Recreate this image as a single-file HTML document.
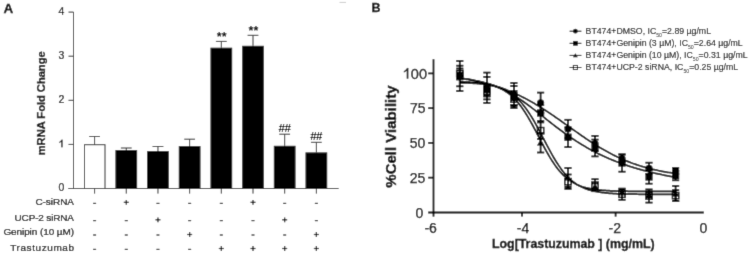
<!DOCTYPE html><html><head><meta charset="utf-8"><style>html,body{margin:0;padding:0;background:#fff;}svg{display:block;}#w{will-change:transform;width:749px;height:254px;}text{font-family:"Liberation Sans",sans-serif;}</style></head><body>
<div id="w"><svg width="749" height="254" viewBox="0 0 749 254">
<defs><filter id="bl" x="0" y="0" width="749" height="254" filterUnits="userSpaceOnUse"><feConvolveMatrix order="3" kernelMatrix="0.01134 0.08382 0.01134 0.08382 0.61935 0.08382 0.01134 0.08382 0.01134" edgeMode="duplicate"/></filter></defs>
<rect width="749" height="254" fill="#fff"/>
<g filter="url(#bl)">
<rect width="749" height="254" fill="#fff"/>
<text transform="translate(3.60,13.00)" font-size="13.5" font-weight="bold" fill="#000" stroke="#000" stroke-width="0.3">A</text>
<g stroke="#2a2a2a" stroke-width="1" fill="none">
<line x1="73.5" y1="12" x2="73.5" y2="189"/>
<line x1="68.5" y1="188.50" x2="73.5" y2="188.50"/>
<line x1="68.5" y1="144.40" x2="73.5" y2="144.40"/>
<line x1="68.5" y1="100.30" x2="73.5" y2="100.30"/>
<line x1="68.5" y1="56.20" x2="73.5" y2="56.20"/>
<line x1="68.5" y1="12.10" x2="73.5" y2="12.10"/>
<line x1="68.5" y1="188.5" x2="338.6" y2="188.5"/>
</g>
<text transform="translate(64.30,191.30)" font-size="10.5" text-anchor="end" fill="#000" stroke="#000" stroke-width="0.2">0</text>
<g stroke="#000" stroke-width="0.2"><path d="M62.43,147.20 L61.45,147.20 L61.45,141.47 C60.93,141.99 59.98,142.41 59.35,142.78 L59.35,141.89 C60.56,141.36 61.24,140.42 61.66,139.68 L62.43,139.68 Z" fill="#000"/></g>
<text transform="translate(64.30,103.10)" font-size="10.5" text-anchor="end" fill="#000" stroke="#000" stroke-width="0.2">2</text>
<text transform="translate(64.30,59.00)" font-size="10.5" text-anchor="end" fill="#000" stroke="#000" stroke-width="0.2">3</text>
<text transform="translate(64.30,14.90)" font-size="10.5" text-anchor="end" fill="#000" stroke="#000" stroke-width="0.2">4</text>
<text transform="translate(45.0,155.3) rotate(-90)" font-size="11.2" font-weight="bold" fill="#000" stroke="#000" stroke-width="0.25" textLength="104" lengthAdjust="spacing">mRNA Fold Change</text>
<rect x="84.5" y="144.70" width="20.5" height="43.80" fill="#fff" stroke="#2a2a2a" stroke-width="1"/>
<g stroke="#2a2a2a" stroke-width="1"><line x1="94.60" y1="136.50" x2="94.60" y2="144.70"/><line x1="89.20" y1="136.50" x2="100.00" y2="136.50"/><line x1="94.60" y1="188.5" x2="94.60" y2="193.6"/></g>
<rect x="115.43" y="150.10" width="21.70" height="38.40" fill="#000"/>
<g stroke="#2a2a2a" stroke-width="1"><line x1="126.28" y1="148.00" x2="126.28" y2="150.10"/><line x1="120.88" y1="148.00" x2="131.68" y2="148.00"/><line x1="126.28" y1="188.5" x2="126.28" y2="193.6"/></g>
<rect x="147.11" y="151.10" width="21.70" height="37.40" fill="#000"/>
<g stroke="#2a2a2a" stroke-width="1"><line x1="157.96" y1="146.50" x2="157.96" y2="151.10"/><line x1="152.56" y1="146.50" x2="163.36" y2="146.50"/><line x1="157.96" y1="188.5" x2="157.96" y2="193.6"/></g>
<rect x="178.79" y="146.10" width="21.70" height="42.40" fill="#000"/>
<g stroke="#2a2a2a" stroke-width="1"><line x1="189.64" y1="139.20" x2="189.64" y2="146.10"/><line x1="184.24" y1="139.20" x2="195.04" y2="139.20"/><line x1="189.64" y1="188.5" x2="189.64" y2="193.6"/></g>
<rect x="210.47" y="47.70" width="21.70" height="140.80" fill="#000"/>
<g stroke="#2a2a2a" stroke-width="1"><line x1="221.32" y1="41.40" x2="221.32" y2="47.70"/><line x1="215.92" y1="41.40" x2="226.72" y2="41.40"/><line x1="221.32" y1="188.5" x2="221.32" y2="193.6"/></g>
<rect x="242.15" y="45.80" width="21.70" height="142.70" fill="#000"/>
<g stroke="#2a2a2a" stroke-width="1"><line x1="253.00" y1="35.30" x2="253.00" y2="45.80"/><line x1="247.60" y1="35.30" x2="258.40" y2="35.30"/><line x1="253.00" y1="188.5" x2="253.00" y2="193.6"/></g>
<rect x="273.83" y="145.80" width="21.70" height="42.70" fill="#000"/>
<g stroke="#2a2a2a" stroke-width="1"><line x1="284.68" y1="134.20" x2="284.68" y2="145.80"/><line x1="279.28" y1="134.20" x2="290.08" y2="134.20"/><line x1="284.68" y1="188.5" x2="284.68" y2="193.6"/></g>
<rect x="305.51" y="152.40" width="21.70" height="36.10" fill="#000"/>
<g stroke="#2a2a2a" stroke-width="1"><line x1="316.36" y1="142.30" x2="316.36" y2="152.40"/><line x1="310.96" y1="142.30" x2="321.76" y2="142.30"/><line x1="316.36" y1="188.5" x2="316.36" y2="193.6"/></g>
<text transform="translate(221.72,40.80)" font-size="12.5" font-weight="bold" text-anchor="middle" fill="#000">**</text>
<text transform="translate(253.40,34.80)" font-size="12.5" font-weight="bold" text-anchor="middle" fill="#000">**</text>
<text transform="translate(284.38,132.20)" font-size="11.6" font-weight="bold" text-anchor="middle" fill="#000" letter-spacing="-0.6">##</text>
<text transform="translate(316.06,139.90)" font-size="11.6" font-weight="bold" text-anchor="middle" fill="#000" letter-spacing="-0.6">##</text>
<text transform="translate(74.00,205.20) scale(1.030,1)" font-size="9.7" text-anchor="end" fill="#000" textLength="37.48" lengthAdjust="spacing" stroke="#000" stroke-width="0.22">C-siRNA</text>
<line x1="93.10" y1="203.40" x2="96.10" y2="203.40" stroke="#1a1a1a" stroke-width="1.2"/>
<g stroke="#1a1a1a" stroke-width="1.2"><line x1="123.78" y1="202.30" x2="128.78" y2="202.30"/><line x1="126.28" y1="199.90" x2="126.28" y2="204.70"/></g>
<line x1="156.46" y1="203.40" x2="159.46" y2="203.40" stroke="#1a1a1a" stroke-width="1.2"/>
<line x1="188.14" y1="203.40" x2="191.14" y2="203.40" stroke="#1a1a1a" stroke-width="1.2"/>
<line x1="219.82" y1="203.40" x2="222.82" y2="203.40" stroke="#1a1a1a" stroke-width="1.2"/>
<g stroke="#1a1a1a" stroke-width="1.2"><line x1="250.50" y1="202.30" x2="255.50" y2="202.30"/><line x1="253.00" y1="199.90" x2="253.00" y2="204.70"/></g>
<line x1="283.18" y1="203.40" x2="286.18" y2="203.40" stroke="#1a1a1a" stroke-width="1.2"/>
<line x1="314.86" y1="203.40" x2="317.86" y2="203.40" stroke="#1a1a1a" stroke-width="1.2"/>
<text transform="translate(74.00,221.30) scale(1.030,1)" font-size="9.7" text-anchor="end" fill="#000" textLength="57.77" lengthAdjust="spacing" stroke="#000" stroke-width="0.22">UCP-2 siRNA</text>
<line x1="93.10" y1="220.60" x2="96.10" y2="220.60" stroke="#1a1a1a" stroke-width="1.2"/>
<line x1="124.78" y1="220.60" x2="127.78" y2="220.60" stroke="#1a1a1a" stroke-width="1.2"/>
<g stroke="#1a1a1a" stroke-width="1.2"><line x1="155.46" y1="219.80" x2="160.46" y2="219.80"/><line x1="157.96" y1="217.40" x2="157.96" y2="222.20"/></g>
<line x1="188.14" y1="220.60" x2="191.14" y2="220.60" stroke="#1a1a1a" stroke-width="1.2"/>
<line x1="219.82" y1="220.60" x2="222.82" y2="220.60" stroke="#1a1a1a" stroke-width="1.2"/>
<line x1="251.50" y1="220.60" x2="254.50" y2="220.60" stroke="#1a1a1a" stroke-width="1.2"/>
<g stroke="#1a1a1a" stroke-width="1.2"><line x1="282.18" y1="219.80" x2="287.18" y2="219.80"/><line x1="284.68" y1="217.40" x2="284.68" y2="222.20"/></g>
<line x1="314.86" y1="220.60" x2="317.86" y2="220.60" stroke="#1a1a1a" stroke-width="1.2"/>
<text transform="translate(74.00,235.10) scale(1.030,1)" font-size="9.7" text-anchor="end" fill="#000" textLength="68.54" lengthAdjust="spacing" stroke="#000" stroke-width="0.22">Genipin (10 µM)</text>
<line x1="93.10" y1="235.00" x2="96.10" y2="235.00" stroke="#1a1a1a" stroke-width="1.2"/>
<line x1="124.78" y1="235.00" x2="127.78" y2="235.00" stroke="#1a1a1a" stroke-width="1.2"/>
<line x1="156.46" y1="235.00" x2="159.46" y2="235.00" stroke="#1a1a1a" stroke-width="1.2"/>
<g stroke="#1a1a1a" stroke-width="1.2"><line x1="187.14" y1="234.50" x2="192.14" y2="234.50"/><line x1="189.64" y1="232.10" x2="189.64" y2="236.90"/></g>
<line x1="219.82" y1="235.00" x2="222.82" y2="235.00" stroke="#1a1a1a" stroke-width="1.2"/>
<line x1="251.50" y1="235.00" x2="254.50" y2="235.00" stroke="#1a1a1a" stroke-width="1.2"/>
<line x1="283.18" y1="235.00" x2="286.18" y2="235.00" stroke="#1a1a1a" stroke-width="1.2"/>
<g stroke="#1a1a1a" stroke-width="1.2"><line x1="313.86" y1="234.50" x2="318.86" y2="234.50"/><line x1="316.36" y1="232.10" x2="316.36" y2="236.90"/></g>
<text transform="translate(74.00,250.70) scale(1.030,1)" font-size="9.7" text-anchor="end" fill="#000" textLength="61.94" lengthAdjust="spacing" stroke="#000" stroke-width="0.22">Trastuzumab</text>
<line x1="93.10" y1="249.40" x2="96.10" y2="249.40" stroke="#1a1a1a" stroke-width="1.2"/>
<line x1="124.78" y1="249.40" x2="127.78" y2="249.40" stroke="#1a1a1a" stroke-width="1.2"/>
<line x1="156.46" y1="249.40" x2="159.46" y2="249.40" stroke="#1a1a1a" stroke-width="1.2"/>
<line x1="188.14" y1="249.40" x2="191.14" y2="249.40" stroke="#1a1a1a" stroke-width="1.2"/>
<g stroke="#1a1a1a" stroke-width="1.2"><line x1="218.82" y1="248.50" x2="223.82" y2="248.50"/><line x1="221.32" y1="246.10" x2="221.32" y2="250.90"/></g>
<g stroke="#1a1a1a" stroke-width="1.2"><line x1="250.50" y1="248.50" x2="255.50" y2="248.50"/><line x1="253.00" y1="246.10" x2="253.00" y2="250.90"/></g>
<g stroke="#1a1a1a" stroke-width="1.2"><line x1="282.18" y1="248.50" x2="287.18" y2="248.50"/><line x1="284.68" y1="246.10" x2="284.68" y2="250.90"/></g>
<g stroke="#1a1a1a" stroke-width="1.2"><line x1="313.86" y1="248.50" x2="318.86" y2="248.50"/><line x1="316.36" y1="246.10" x2="316.36" y2="250.90"/></g>
<line x1="339.5" y1="2.4" x2="346" y2="2.4" stroke="#ccc" stroke-width="1"/>
<text transform="translate(371.60,12.20)" font-size="12.5" font-weight="bold" fill="#000" stroke="#000" stroke-width="0.3">B</text>
<g stroke="#000" stroke-width="1.8" fill="none">
<line x1="433.5" y1="59.2" x2="433.5" y2="213.3"/>
<line x1="428.2" y1="212.5" x2="703.8" y2="212.5"/>
<line x1="428.2" y1="177.65" x2="433.5" y2="177.65"/>
<line x1="428.2" y1="142.90" x2="433.5" y2="142.90"/>
<line x1="428.2" y1="108.15" x2="433.5" y2="108.15"/>
<line x1="428.2" y1="73.40" x2="433.5" y2="73.40"/>
<line x1="433.5" y1="212.5" x2="433.5" y2="216.6"/>
<line x1="522" y1="212.5" x2="522" y2="216.6"/>
<line x1="615.6" y1="212.5" x2="615.6" y2="216.6"/>
</g>
<text transform="translate(423.40,217.50)" font-size="14" text-anchor="end" fill="#000" stroke="#000" stroke-width="0.25">0</text>
<text transform="translate(425.40,182.75)" font-size="14" text-anchor="end" fill="#000" stroke="#000" stroke-width="0.25">25</text>
<text transform="translate(425.40,148.00)" font-size="14" text-anchor="end" fill="#000" stroke="#000" stroke-width="0.25">50</text>
<text transform="translate(425.50,113.25)" font-size="14" text-anchor="end" fill="#000" stroke="#000" stroke-width="0.25">75</text>
<g stroke="#000" stroke-width="0.25"><path d="M408.22,78.50 L406.86,78.50 L406.86,70.55 C406.14,71.28 404.83,71.86 403.95,72.37 L403.95,71.13 C405.63,70.40 406.57,69.09 407.15,68.08 L408.22,68.08 Z" fill="#000"/></g>
<text transform="translate(427.00,78.50) scale(1.040,1)" font-size="14" text-anchor="end" fill="#000" stroke="#000" stroke-width="0.25">00</text>
<text transform="translate(430.60,232.80)" font-size="14" text-anchor="middle" fill="#000" stroke="#000" stroke-width="0.25">-6</text>
<text transform="translate(523.00,232.80)" font-size="14" text-anchor="middle" fill="#000" stroke="#000" stroke-width="0.25">-4</text>
<text transform="translate(614.80,232.80)" font-size="14" text-anchor="middle" fill="#000" stroke="#000" stroke-width="0.25">-2</text>
<text transform="translate(703.30,232.80)" font-size="14" text-anchor="middle" fill="#000" stroke="#000" stroke-width="0.25">0</text>
<text transform="translate(492.00,247.80)" font-size="12.4" font-weight="bold" fill="#000" textLength="162.60" lengthAdjust="spacing" stroke="#000" stroke-width="0.3">Log[Trastuzumab ] (mg/mL)</text>
<text transform="translate(396.4,187.7) rotate(-90)" font-size="15" font-weight="bold" stroke="#000" stroke-width="0.35">%Cell Viability</text>
<path d="M459.80,77.88 L461.16,78.09 L462.52,78.30 L463.88,78.52 L465.23,78.74 L466.59,78.98 L467.95,79.22 L469.31,79.47 L470.67,79.72 L472.03,79.98 L473.38,80.25 L474.74,80.53 L476.10,80.82 L477.46,81.12 L478.82,81.42 L480.18,81.74 L481.54,82.06 L482.89,82.39 L484.25,82.73 L485.61,83.08 L486.97,83.45 L488.33,83.82 L489.69,84.20 L491.05,84.59 L492.40,85.00 L493.76,85.41 L495.12,85.84 L496.48,86.27 L497.84,86.72 L499.20,87.18 L500.55,87.66 L501.91,88.14 L503.27,88.64 L504.63,89.14 L505.99,89.67 L507.35,90.20 L508.71,90.75 L510.06,91.30 L511.42,91.88 L512.78,92.46 L514.14,93.06 L515.50,93.67 L516.86,94.29 L518.22,94.93 L519.57,95.58 L520.93,96.25 L522.29,96.92 L523.65,97.61 L525.01,98.32 L526.37,99.03 L527.72,99.76 L529.08,100.51 L530.44,101.26 L531.80,102.03 L533.16,102.81 L534.52,103.60 L535.88,104.40 L537.23,105.22 L538.59,106.05 L539.95,106.88 L541.31,107.73 L542.67,108.59 L544.03,109.46 L545.38,110.34 L546.74,111.23 L548.10,112.13 L549.46,113.03 L550.82,113.95 L552.18,114.87 L553.54,115.80 L554.89,116.73 L556.25,117.67 L557.61,118.62 L558.97,119.57 L560.33,120.53 L561.69,121.49 L563.05,122.45 L564.40,123.42 L565.76,124.38 L567.12,125.35 L568.48,126.32 L569.84,127.29 L571.20,128.26 L572.55,129.23 L573.91,130.19 L575.27,131.15 L576.63,132.11 L577.99,133.07 L579.35,134.02 L580.71,134.97 L582.06,135.91 L583.42,136.84 L584.78,137.77 L586.14,138.69 L587.50,139.61 L588.86,140.51 L590.22,141.41 L591.57,142.30 L592.93,143.17 L594.29,144.04 L595.65,144.90 L597.01,145.74 L598.37,146.58 L599.72,147.40 L601.08,148.21 L602.44,149.01 L603.80,149.80 L605.16,150.57 L606.52,151.34 L607.88,152.08 L609.23,152.82 L610.59,153.54 L611.95,154.25 L613.31,154.94 L614.67,155.62 L616.03,156.29 L617.38,156.94 L618.74,157.58 L620.10,158.21 L621.46,158.82 L622.82,159.41 L624.18,160.00 L625.54,160.57 L626.89,161.12 L628.25,161.66 L629.61,162.19 L630.97,162.71 L632.33,163.21 L633.69,163.70 L635.05,164.18 L636.40,164.64 L637.76,165.09 L639.12,165.53 L640.48,165.96 L641.84,166.37 L643.20,166.78 L644.55,167.17 L645.91,167.55 L647.27,167.92 L648.63,168.28 L649.99,168.62 L651.35,168.96 L652.71,169.29 L654.06,169.61 L655.42,169.91 L656.78,170.21 L658.14,170.50 L659.50,170.78 L660.86,171.05 L662.22,171.31 L663.57,171.56 L664.93,171.81 L666.29,172.04 L667.65,172.27 L669.01,172.49 L670.37,172.71 L671.72,172.92 L673.08,173.12 L674.44,173.31 L675.80,173.50" fill="none" stroke="#000" stroke-width="1.75"/>
<path d="M459.80,78.52 L461.16,78.66 L462.52,78.80 L463.88,78.95 L465.23,79.11 L466.59,79.28 L467.95,79.46 L469.31,79.66 L470.67,79.86 L472.03,80.07 L473.38,80.30 L474.74,80.54 L476.10,80.79 L477.46,81.06 L478.82,81.34 L480.18,81.63 L481.54,81.95 L482.89,82.27 L484.25,82.62 L485.61,82.98 L486.97,83.36 L488.33,83.76 L489.69,84.18 L491.05,84.62 L492.40,85.08 L493.76,85.56 L495.12,86.06 L496.48,86.59 L497.84,87.13 L499.20,87.70 L500.55,88.29 L501.91,88.91 L503.27,89.55 L504.63,90.21 L505.99,90.89 L507.35,91.60 L508.71,92.33 L510.06,93.09 L511.42,93.86 L512.78,94.66 L514.14,95.48 L515.50,96.33 L516.86,97.19 L518.22,98.07 L519.57,98.98 L520.93,99.90 L522.29,100.84 L523.65,101.80 L525.01,102.77 L526.37,103.75 L527.72,104.76 L529.08,105.77 L530.44,106.80 L531.80,107.83 L533.16,108.88 L534.52,109.93 L535.88,110.99 L537.23,112.05 L538.59,113.13 L539.95,114.20 L541.31,115.28 L542.67,116.35 L544.03,117.43 L545.38,118.51 L546.74,119.58 L548.10,120.66 L549.46,121.73 L550.82,122.79 L552.18,123.85 L553.54,124.90 L554.89,125.95 L556.25,126.99 L557.61,128.02 L558.97,129.04 L560.33,130.06 L561.69,131.06 L563.05,132.05 L564.40,133.04 L565.76,134.01 L567.12,134.97 L568.48,135.92 L569.84,136.86 L571.20,137.78 L572.55,138.70 L573.91,139.60 L575.27,140.49 L576.63,141.37 L577.99,142.23 L579.35,143.08 L580.71,143.92 L582.06,144.75 L583.42,145.56 L584.78,146.36 L586.14,147.15 L587.50,147.92 L588.86,148.69 L590.22,149.44 L591.57,150.17 L592.93,150.90 L594.29,151.61 L595.65,152.31 L597.01,153.00 L598.37,153.68 L599.72,154.34 L601.08,155.00 L602.44,155.64 L603.80,156.27 L605.16,156.89 L606.52,157.50 L607.88,158.10 L609.23,158.68 L610.59,159.26 L611.95,159.83 L613.31,160.38 L614.67,160.93 L616.03,161.46 L617.38,161.99 L618.74,162.50 L620.10,163.01 L621.46,163.50 L622.82,163.99 L624.18,164.47 L625.54,164.94 L626.89,165.40 L628.25,165.85 L629.61,166.30 L630.97,166.73 L632.33,167.16 L633.69,167.58 L635.05,167.99 L636.40,168.39 L637.76,168.79 L639.12,169.18 L640.48,169.56 L641.84,169.93 L643.20,170.30 L644.55,170.66 L645.91,171.01 L647.27,171.36 L648.63,171.70 L649.99,172.03 L651.35,172.36 L652.71,172.68 L654.06,172.99 L655.42,173.30 L656.78,173.61 L658.14,173.90 L659.50,174.19 L660.86,174.48 L662.22,174.76 L663.57,175.03 L664.93,175.30 L666.29,175.57 L667.65,175.83 L669.01,176.08 L670.37,176.33 L671.72,176.58 L673.08,176.82 L674.44,177.05 L675.80,177.28" fill="none" stroke="#000" stroke-width="1.75"/>
<path d="M459.80,81.75 L461.16,81.79 L462.52,81.84 L463.88,81.90 L465.23,81.96 L466.59,82.03 L467.95,82.10 L469.31,82.18 L470.67,82.27 L472.03,82.36 L473.38,82.47 L474.74,82.59 L476.10,82.71 L477.46,82.85 L478.82,83.00 L480.18,83.17 L481.54,83.35 L482.89,83.55 L484.25,83.77 L485.61,84.01 L486.97,84.28 L488.33,84.56 L489.69,84.88 L491.05,85.22 L492.40,85.59 L493.76,86.00 L495.12,86.44 L496.48,86.93 L497.84,87.45 L499.20,88.02 L500.55,88.64 L501.91,89.32 L503.27,90.05 L504.63,90.84 L505.99,91.70 L507.35,92.62 L508.71,93.61 L510.06,94.69 L511.42,95.84 L512.78,97.07 L514.14,98.39 L515.50,99.80 L516.86,101.30 L518.22,102.89 L519.57,104.58 L520.93,106.36 L522.29,108.23 L523.65,110.20 L525.01,112.26 L526.37,114.41 L527.72,116.65 L529.08,118.96 L530.44,121.34 L531.80,123.78 L533.16,126.28 L534.52,128.83 L535.88,131.40 L537.23,134.01 L538.59,136.62 L539.95,139.24 L541.31,141.84 L542.67,144.42 L544.03,146.97 L545.38,149.47 L546.74,151.92 L548.10,154.30 L549.46,156.61 L550.82,158.85 L552.18,161.00 L553.54,163.06 L554.89,165.03 L556.25,166.90 L557.61,168.68 L558.97,170.37 L560.33,171.95 L561.69,173.45 L563.05,174.85 L564.40,176.16 L565.76,177.38 L567.12,178.52 L568.48,179.58 L569.84,180.56 L571.20,181.47 L572.55,182.31 L573.91,183.09 L575.27,183.80 L576.63,184.46 L577.99,185.07 L579.35,185.62 L580.71,186.13 L582.06,186.60 L583.42,187.03 L584.78,187.42 L586.14,187.78 L587.50,188.11 L588.86,188.41 L590.22,188.68 L591.57,188.93 L592.93,189.16 L594.29,189.36 L595.65,189.55 L597.01,189.73 L598.37,189.88 L599.72,190.02 L601.08,190.15 L602.44,190.27 L603.80,190.38 L605.16,190.48 L606.52,190.57 L607.88,190.65 L609.23,190.72 L610.59,190.79 L611.95,190.85 L613.31,190.90 L614.67,190.95 L616.03,191.00 L617.38,191.04 L618.74,191.08 L620.10,191.11 L621.46,191.14 L622.82,191.17 L624.18,191.19 L625.54,191.22 L626.89,191.24 L628.25,191.26 L629.61,191.28 L630.97,191.29 L632.33,191.31 L633.69,191.32 L635.05,191.33 L636.40,191.34 L637.76,191.35 L639.12,191.36 L640.48,191.37 L641.84,191.37 L643.20,191.38 L644.55,191.39 L645.91,191.39 L647.27,191.40 L648.63,191.40 L649.99,191.41 L651.35,191.41 L652.71,191.41 L654.06,191.42 L655.42,191.42 L656.78,191.42 L658.14,191.42 L659.50,191.43 L660.86,191.43 L662.22,191.43 L663.57,191.43 L664.93,191.43 L666.29,191.43 L667.65,191.43 L669.01,191.44 L670.37,191.44 L671.72,191.44 L673.08,191.44 L674.44,191.44 L675.80,191.44" fill="none" stroke="#000" stroke-width="1.75"/>
<path d="M459.80,82.72 L461.16,82.76 L462.52,82.80 L463.88,82.84 L465.23,82.89 L466.59,82.94 L467.95,83.00 L469.31,83.06 L470.67,83.13 L472.03,83.21 L473.38,83.29 L474.74,83.38 L476.10,83.48 L477.46,83.59 L478.82,83.70 L480.18,83.83 L481.54,83.98 L482.89,84.13 L484.25,84.30 L485.61,84.49 L486.97,84.69 L488.33,84.91 L489.69,85.16 L491.05,85.42 L492.40,85.71 L493.76,86.02 L495.12,86.37 L496.48,86.74 L497.84,87.15 L499.20,87.59 L500.55,88.08 L501.91,88.60 L503.27,89.17 L504.63,89.79 L505.99,90.45 L507.35,91.18 L508.71,91.96 L510.06,92.81 L511.42,93.72 L512.78,94.70 L514.14,95.75 L515.50,96.88 L516.86,98.10 L518.22,99.39 L519.57,100.77 L520.93,102.24 L522.29,103.80 L523.65,105.46 L525.01,107.21 L526.37,109.04 L527.72,110.98 L529.08,113.00 L530.44,115.11 L531.80,117.30 L533.16,119.57 L534.52,121.91 L535.88,124.32 L537.23,126.79 L538.59,129.31 L539.95,131.86 L541.31,134.45 L542.67,137.05 L544.03,139.66 L545.38,142.27 L546.74,144.86 L548.10,147.42 L549.46,149.95 L550.82,152.43 L552.18,154.85 L553.54,157.21 L554.89,159.50 L556.25,161.71 L557.61,163.84 L558.97,165.88 L560.33,167.83 L561.69,169.68 L563.05,171.45 L564.40,173.11 L565.76,174.69 L567.12,176.17 L568.48,177.56 L569.84,178.87 L571.20,180.09 L572.55,181.22 L573.91,182.28 L575.27,183.26 L576.63,184.18 L577.99,185.02 L579.35,185.80 L580.71,186.52 L582.06,187.19 L583.42,187.80 L584.78,188.37 L586.14,188.89 L587.50,189.36 L588.86,189.80 L590.22,190.20 L591.57,190.57 L592.93,190.90 L594.29,191.21 L595.65,191.49 L597.01,191.75 L598.37,191.99 L599.72,192.20 L601.08,192.40 L602.44,192.58 L603.80,192.74 L605.16,192.89 L606.52,193.02 L607.88,193.15 L609.23,193.26 L610.59,193.36 L611.95,193.46 L613.31,193.54 L614.67,193.62 L616.03,193.69 L617.38,193.76 L618.74,193.82 L620.10,193.87 L621.46,193.92 L622.82,193.96 L624.18,194.00 L625.54,194.04 L626.89,194.07 L628.25,194.10 L629.61,194.13 L630.97,194.16 L632.33,194.18 L633.69,194.20 L635.05,194.22 L636.40,194.24 L637.76,194.25 L639.12,194.27 L640.48,194.28 L641.84,194.29 L643.20,194.30 L644.55,194.31 L645.91,194.32 L647.27,194.33 L648.63,194.34 L649.99,194.34 L651.35,194.35 L652.71,194.35 L654.06,194.36 L655.42,194.36 L656.78,194.37 L658.14,194.37 L659.50,194.37 L660.86,194.38 L662.22,194.38 L663.57,194.38 L664.93,194.39 L666.29,194.39 L667.65,194.39 L669.01,194.39 L670.37,194.39 L671.72,194.39 L673.08,194.40 L674.44,194.40 L675.80,194.40" fill="none" stroke="#000" stroke-width="1.75"/>
<g stroke="#000" stroke-width="1.8">
<line x1="459.8" y1="61.00" x2="459.8" y2="91.00"/>
<line x1="456.20" y1="61.00" x2="463.40" y2="61.00"/>
<line x1="456.20" y1="91.00" x2="463.40" y2="91.00"/>
<line x1="486.9" y1="72.60" x2="486.9" y2="99.40"/>
<line x1="483.30" y1="72.60" x2="490.50" y2="72.60"/>
<line x1="483.30" y1="99.40" x2="490.50" y2="99.40"/>
<line x1="513.9" y1="83.00" x2="513.9" y2="108.00"/>
<line x1="510.30" y1="83.00" x2="517.50" y2="83.00"/>
<line x1="510.30" y1="108.00" x2="517.50" y2="108.00"/>
<line x1="540.6" y1="92.60" x2="540.6" y2="113.00"/>
<line x1="537.00" y1="92.60" x2="544.20" y2="92.60"/>
<line x1="537.00" y1="113.00" x2="544.20" y2="113.00"/>
<line x1="568" y1="119.80" x2="568" y2="138.20"/>
<line x1="564.40" y1="119.80" x2="571.60" y2="119.80"/>
<line x1="564.40" y1="138.20" x2="571.60" y2="138.20"/>
<line x1="595" y1="135.90" x2="595" y2="151.10"/>
<line x1="591.40" y1="135.90" x2="598.60" y2="135.90"/>
<line x1="591.40" y1="151.10" x2="598.60" y2="151.10"/>
<line x1="622" y1="154.60" x2="622" y2="162.40"/>
<line x1="618.40" y1="154.60" x2="625.60" y2="154.60"/>
<line x1="618.40" y1="162.40" x2="625.60" y2="162.40"/>
<line x1="649" y1="162.70" x2="649" y2="173.90"/>
<line x1="645.40" y1="162.70" x2="652.60" y2="162.70"/>
<line x1="645.40" y1="173.90" x2="652.60" y2="173.90"/>
<line x1="675.6" y1="168.00" x2="675.6" y2="174.00"/>
<line x1="672.00" y1="168.00" x2="679.20" y2="168.00"/>
<line x1="672.00" y1="174.00" x2="679.20" y2="174.00"/>
</g>
<g stroke="#000" stroke-width="1.8">
<line x1="459.8" y1="65.70" x2="459.8" y2="86.30"/>
<line x1="456.20" y1="65.70" x2="463.40" y2="65.70"/>
<line x1="456.20" y1="86.30" x2="463.40" y2="86.30"/>
<line x1="486.9" y1="76.90" x2="486.9" y2="102.90"/>
<line x1="483.30" y1="76.90" x2="490.50" y2="76.90"/>
<line x1="483.30" y1="102.90" x2="490.50" y2="102.90"/>
<line x1="513.9" y1="86.00" x2="513.9" y2="106.00"/>
<line x1="510.30" y1="86.00" x2="517.50" y2="86.00"/>
<line x1="510.30" y1="106.00" x2="517.50" y2="106.00"/>
<line x1="540.6" y1="105.00" x2="540.6" y2="121.00"/>
<line x1="537.00" y1="105.00" x2="544.20" y2="105.00"/>
<line x1="537.00" y1="121.00" x2="544.20" y2="121.00"/>
<line x1="568" y1="127.30" x2="568" y2="147.10"/>
<line x1="564.40" y1="127.30" x2="571.60" y2="127.30"/>
<line x1="564.40" y1="147.10" x2="571.60" y2="147.10"/>
<line x1="595" y1="139.60" x2="595" y2="156.40"/>
<line x1="591.40" y1="139.60" x2="598.60" y2="139.60"/>
<line x1="591.40" y1="156.40" x2="598.60" y2="156.40"/>
<line x1="622" y1="154.30" x2="622" y2="171.70"/>
<line x1="618.40" y1="154.30" x2="625.60" y2="154.30"/>
<line x1="618.40" y1="171.70" x2="625.60" y2="171.70"/>
<line x1="649" y1="170.30" x2="649" y2="183.70"/>
<line x1="645.40" y1="170.30" x2="652.60" y2="170.30"/>
<line x1="645.40" y1="183.70" x2="652.60" y2="183.70"/>
<line x1="675.6" y1="170.70" x2="675.6" y2="180.30"/>
<line x1="672.00" y1="170.70" x2="679.20" y2="170.70"/>
<line x1="672.00" y1="180.30" x2="679.20" y2="180.30"/>
</g>
<g stroke="#000" stroke-width="1.8">
<line x1="459.8" y1="72.50" x2="459.8" y2="79.50"/>
<line x1="456.20" y1="72.50" x2="463.40" y2="72.50"/>
<line x1="456.20" y1="79.50" x2="463.40" y2="79.50"/>
<line x1="486.9" y1="84.00" x2="486.9" y2="96.00"/>
<line x1="483.30" y1="84.00" x2="490.50" y2="84.00"/>
<line x1="483.30" y1="96.00" x2="490.50" y2="96.00"/>
<line x1="513.9" y1="91.00" x2="513.9" y2="105.00"/>
<line x1="510.30" y1="91.00" x2="517.50" y2="91.00"/>
<line x1="510.30" y1="105.00" x2="517.50" y2="105.00"/>
<line x1="540.6" y1="132.90" x2="540.6" y2="152.50"/>
<line x1="537.00" y1="132.90" x2="544.20" y2="132.90"/>
<line x1="537.00" y1="152.50" x2="544.20" y2="152.50"/>
<line x1="568" y1="168.00" x2="568" y2="187.00"/>
<line x1="564.40" y1="168.00" x2="571.60" y2="168.00"/>
<line x1="564.40" y1="187.00" x2="571.60" y2="187.00"/>
<line x1="595" y1="183.50" x2="595" y2="189.50"/>
<line x1="591.40" y1="183.50" x2="598.60" y2="183.50"/>
<line x1="591.40" y1="189.50" x2="598.60" y2="189.50"/>
<line x1="622" y1="189.50" x2="622" y2="194.50"/>
<line x1="618.40" y1="189.50" x2="625.60" y2="189.50"/>
<line x1="618.40" y1="194.50" x2="625.60" y2="194.50"/>
<line x1="649" y1="191.50" x2="649" y2="197.50"/>
<line x1="645.40" y1="191.50" x2="652.60" y2="191.50"/>
<line x1="645.40" y1="197.50" x2="652.60" y2="197.50"/>
<line x1="675.6" y1="186.00" x2="675.6" y2="201.00"/>
<line x1="672.00" y1="186.00" x2="679.20" y2="186.00"/>
<line x1="672.00" y1="201.00" x2="679.20" y2="201.00"/>
</g>
<g stroke="#000" stroke-width="1.8">
<line x1="459.8" y1="68.50" x2="459.8" y2="78.50"/>
<line x1="456.20" y1="68.50" x2="463.40" y2="68.50"/>
<line x1="456.20" y1="78.50" x2="463.40" y2="78.50"/>
<line x1="486.9" y1="86.50" x2="486.9" y2="96.50"/>
<line x1="483.30" y1="86.50" x2="490.50" y2="86.50"/>
<line x1="483.30" y1="96.50" x2="490.50" y2="96.50"/>
<line x1="513.9" y1="93.00" x2="513.9" y2="105.00"/>
<line x1="510.30" y1="93.00" x2="517.50" y2="93.00"/>
<line x1="510.30" y1="105.00" x2="517.50" y2="105.00"/>
<line x1="540.6" y1="122.40" x2="540.6" y2="139.00"/>
<line x1="537.00" y1="122.40" x2="544.20" y2="122.40"/>
<line x1="537.00" y1="139.00" x2="544.20" y2="139.00"/>
<line x1="568" y1="174.50" x2="568" y2="188.90"/>
<line x1="564.40" y1="174.50" x2="571.60" y2="174.50"/>
<line x1="564.40" y1="188.90" x2="571.60" y2="188.90"/>
<line x1="595" y1="179.20" x2="595" y2="191.20"/>
<line x1="591.40" y1="179.20" x2="598.60" y2="179.20"/>
<line x1="591.40" y1="191.20" x2="598.60" y2="191.20"/>
<line x1="622" y1="188.60" x2="622" y2="199.80"/>
<line x1="618.40" y1="188.60" x2="625.60" y2="188.60"/>
<line x1="618.40" y1="199.80" x2="625.60" y2="199.80"/>
<line x1="649" y1="189.40" x2="649" y2="202.60"/>
<line x1="645.40" y1="189.40" x2="652.60" y2="189.40"/>
<line x1="645.40" y1="202.60" x2="652.60" y2="202.60"/>
<line x1="675.6" y1="190.10" x2="675.6" y2="201.10"/>
<line x1="672.00" y1="190.10" x2="679.20" y2="190.10"/>
<line x1="672.00" y1="201.10" x2="679.20" y2="201.10"/>
</g>
<circle cx="459.80" cy="76.00" r="3.60" fill="#000"/>
<circle cx="486.90" cy="86.00" r="3.60" fill="#000"/>
<circle cx="513.90" cy="95.50" r="3.60" fill="#000"/>
<circle cx="540.60" cy="102.80" r="3.60" fill="#000"/>
<circle cx="568.00" cy="129.00" r="3.60" fill="#000"/>
<circle cx="595.00" cy="143.50" r="3.60" fill="#000"/>
<circle cx="622.00" cy="158.50" r="3.60" fill="#000"/>
<circle cx="649.00" cy="168.30" r="3.60" fill="#000"/>
<circle cx="675.60" cy="171.00" r="3.60" fill="#000"/>
<rect x="456.20" y="72.40" width="7.20" height="7.20" fill="#000"/>
<rect x="483.30" y="86.30" width="7.20" height="7.20" fill="#000"/>
<rect x="510.30" y="92.40" width="7.20" height="7.20" fill="#000"/>
<rect x="537.00" y="109.40" width="7.20" height="7.20" fill="#000"/>
<rect x="564.40" y="133.60" width="7.20" height="7.20" fill="#000"/>
<rect x="591.40" y="144.40" width="7.20" height="7.20" fill="#000"/>
<rect x="618.40" y="159.40" width="7.20" height="7.20" fill="#000"/>
<rect x="645.40" y="173.40" width="7.20" height="7.20" fill="#000"/>
<rect x="672.00" y="171.90" width="7.20" height="7.20" fill="#000"/>
<path d="M459.80,72.58 L463.40,78.88 L456.20,78.88Z" fill="#000"/>
<path d="M486.90,86.58 L490.50,92.88 L483.30,92.88Z" fill="#000"/>
<path d="M513.90,94.58 L517.50,100.88 L510.30,100.88Z" fill="#000"/>
<path d="M540.60,139.28 L544.20,145.58 L537.00,145.58Z" fill="#000"/>
<path d="M568.00,174.08 L571.60,180.38 L564.40,180.38Z" fill="#000"/>
<path d="M595.00,183.08 L598.60,189.38 L591.40,189.38Z" fill="#000"/>
<path d="M622.00,188.58 L625.60,194.88 L618.40,194.88Z" fill="#000"/>
<path d="M649.00,191.08 L652.60,197.38 L645.40,197.38Z" fill="#000"/>
<path d="M675.60,190.08 L679.20,196.38 L672.00,196.38Z" fill="#000"/>
<rect x="456.63" y="70.33" width="6.34" height="6.34" fill="none" stroke="#000" stroke-width="1.44"/>
<rect x="483.73" y="88.33" width="6.34" height="6.34" fill="none" stroke="#000" stroke-width="1.44"/>
<rect x="510.73" y="95.83" width="6.34" height="6.34" fill="none" stroke="#000" stroke-width="1.44"/>
<rect x="537.43" y="127.53" width="6.34" height="6.34" fill="none" stroke="#000" stroke-width="1.44"/>
<rect x="564.83" y="178.53" width="6.34" height="6.34" fill="none" stroke="#000" stroke-width="1.44"/>
<rect x="591.83" y="182.03" width="6.34" height="6.34" fill="none" stroke="#000" stroke-width="1.44"/>
<rect x="618.83" y="191.03" width="6.34" height="6.34" fill="none" stroke="#000" stroke-width="1.44"/>
<rect x="645.83" y="192.83" width="6.34" height="6.34" fill="none" stroke="#000" stroke-width="1.44"/>
<rect x="672.43" y="192.43" width="6.34" height="6.34" fill="none" stroke="#000" stroke-width="1.44"/>
<line x1="569.6" y1="31.20" x2="581.4" y2="31.20" stroke="#000" stroke-width="1"/>
<circle cx="575.40" cy="31.20" r="2.35" fill="#000"/>
<text x="585.6" y="33.90" font-size="8.74" fill="#000" stroke="#000" stroke-width="0.1">BT474+DMSO, IC<tspan font-size="5.2" dy="2.6" fill="#222" stroke-width="0">50</tspan><tspan dy="-2.6">=2.89 µg/mL</tspan></text>
<line x1="569.6" y1="43.30" x2="581.4" y2="43.30" stroke="#000" stroke-width="1"/>
<rect x="573.05" y="40.95" width="4.70" height="4.70" fill="#000"/>
<text x="585.6" y="46.00" font-size="8.74" fill="#000" stroke="#000" stroke-width="0.1">BT474+Genipin (3 µM), IC<tspan font-size="5.2" dy="2.6" fill="#222" stroke-width="0">50</tspan><tspan dy="-2.6">=2.64 µg/mL</tspan></text>
<line x1="569.6" y1="55.40" x2="581.4" y2="55.40" stroke="#000" stroke-width="1"/>
<path d="M575.40,53.17 L577.75,57.28 L573.05,57.28Z" fill="#000"/>
<text x="585.6" y="58.10" font-size="8.74" fill="#000" stroke="#000" stroke-width="0.1">BT474+Genipin (10 µM), IC<tspan font-size="5.2" dy="2.6" fill="#222" stroke-width="0">50</tspan><tspan dy="-2.6">=0.31 µg/mL</tspan></text>
<line x1="569.6" y1="67.50" x2="581.4" y2="67.50" stroke="#000" stroke-width="1"/>
<rect x="573.36" y="65.46" width="4.08" height="4.08" fill="none" stroke="#000" stroke-width="1.00"/>
<text x="585.6" y="70.20" font-size="8.74" fill="#000" stroke="#000" stroke-width="0.1">BT474+UCP-2 siRNA, IC<tspan font-size="5.2" dy="2.6" fill="#222" stroke-width="0">50</tspan><tspan dy="-2.6">=0.25 µg/mL</tspan></text>
</g></svg></div></body></html>
